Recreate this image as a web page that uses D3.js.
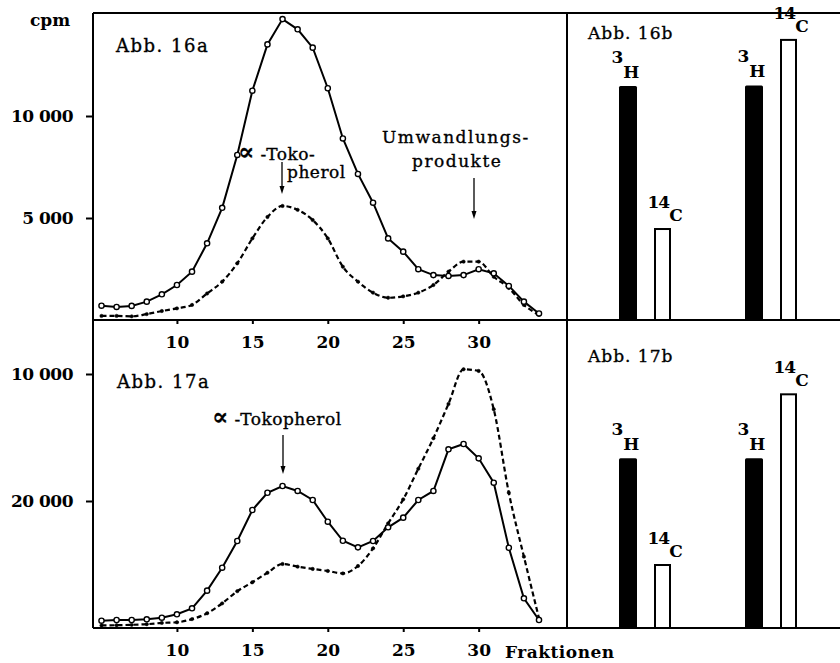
<!DOCTYPE html>
<html><head><meta charset="utf-8">
<script src="https://cdn.jsdelivr.net/npm/d3@7"></script>
<style>
body{margin:0;background:#fff;}
svg text{font-family:"DejaVu Serif",serif;fill:#000;}
</style></head>
<body>
<svg id="c" width="840" height="663"></svg>
<script>
// ---------- data ----------
const fractions = [5,6,7,8,9,10,11,12,13,14,15,16,17,18,19,20,21,22,23,24,25,26,27,28,29,30,31,32,33,34];
const xTickValues = [10,15,20,25,30];

// Abb. 16a (cpm)
const a16Solid  = [700,640,690,900,1260,1715,2370,3760,5500,8090,11240,13510,14750,14250,13350,11360,8900,7160,5750,4000,3350,2490,2200,2160,2200,2490,2290,1670,900,320];
const a16Dashed = [200,200,180,290,440,570,740,1300,1880,2780,4000,5050,5590,5400,4900,4000,2610,1880,1340,1090,1160,1340,1715,2370,2860,2860,2120,1570,740,250];
const topTickValues = [5000,10000];
const topTickLabels = ["5 000","10 000"];

// Abb. 17a (cpm)
const a17Solid  = [575,630,630,685,810,1080,1550,2940,4750,6850,9290,10650,11180,10790,10080,8370,6870,6350,6850,7930,8690,10080,10790,14070,14490,13360,11440,6320,2340,630];
const a17Dashed = [200,220,250,300,400,450,700,1160,1940,2900,3600,4350,5040,4830,4650,4490,4300,4880,6270,8240,10130,12540,14940,17640,20370,20240,17220,10650,5620,760];
const botTickValues = [10000,20000];
const botTickLabels = ["20 000","10 000"];

// Abb. 16b / 17b bars
const groups = ["I","II"];
const isotopes = ["3H","14C"];
const b16H = [11470,11500];
const b16C = [4460,13730];
const b17H = [13360,13360];
const b17C = [4960,18400];

// ---------- layout ----------
const svg = d3.select("#c");
const L = 93, M = 567, R = 840, T = 13, MID = 320, B = 628;

const x = d3.scaleLinear().domain([5,34]).range([101.5,539]);
const yTop = d3.scaleLinear().domain([0,15000]).range([MID,14]);
const yBot = d3.scaleLinear().domain([0,20000]).range([B,374]);

// frame
const frame = svg.append("g").attr("stroke","#000").attr("stroke-width",2).attr("fill","none");
[[L,T,R,T],[L,MID,R,MID],[L,B,R,B],[L,T,L,B],[M,T,M,B]].forEach(s=>{
  frame.append("line").attr("x1",s[0]).attr("y1",s[1]).attr("x2",s[2]).attr("y2",s[3]);
});

// axes
function yAxis(scale, vals, labels){
  const g = svg.append("g").attr("transform",`translate(${L},0)`)
    .call(d3.axisLeft(scale).tickValues(vals).tickSize(7).tickPadding(13)
      .tickFormat((d,i)=>labels[i]));
  g.select(".domain").remove();
  g.selectAll("line").attr("stroke","#000").attr("stroke-width",2);
  g.selectAll("text").attr("font-size",17).attr("font-weight","bold").attr("letter-spacing","-0.5px")
    .style("font-family","'DejaVu Serif',serif");
}
yAxis(yTop, topTickValues, topTickLabels);
yAxis(yBot, botTickValues, botTickLabels);

function xAxis(yPos){
  const g = svg.append("g").attr("transform",`translate(0,${yPos})`)
    .call(d3.axisBottom(x).tickValues(xTickValues).tickSize(4).tickPadding(12));
  g.select(".domain").remove();
  g.selectAll("line").attr("stroke","#000").attr("stroke-width",2);
  g.selectAll("text").attr("font-size",17).attr("font-weight","bold").style("font-family","'DejaVu Serif',serif");
}
xAxis(MID);
xAxis(B);

svg.append("text").attr("x",30).attr("y",26).attr("font-size",17).attr("font-weight","bold").text("cpm");
svg.append("text").attr("x",505).attr("y",658).attr("font-size",17).attr("font-weight","bold")
  .attr("letter-spacing","0.5px").text("Fraktionen");

// lines
function drawSeries(vals, yScale, dashed){
  const pts = fractions.map((f,i)=>[x(f), yScale(vals[i])]);
  const line = d3.line().curve(dashed ? d3.curveMonotoneX : d3.curveLinear);
  svg.append("path").attr("d",line(pts)).attr("fill","none").attr("stroke","#000")
    .attr("stroke-width", dashed ? 2.2 : 2)
    .attr("stroke-dasharray", dashed ? "5,3" : null);
  svg.append("g").selectAll("circle").data(pts).join("circle")
    .attr("cx",d=>d[0]).attr("cy",d=>d[1])
    .attr("r", dashed ? 1.7 : 2.6)
    .attr("fill", dashed ? "#000" : "#fff")
    .attr("stroke","#000").attr("stroke-width", dashed ? 0.5 : 1.4);
}
drawSeries(a16Dashed, yTop, true);
drawSeries(a16Solid, yTop, false);
drawSeries(a17Dashed, yBot, true);
drawSeries(a17Solid, yBot, false);

// annotations
function label(txt, xx, yy, size, ls){
  return svg.append("text").attr("x",xx).attr("y",yy).attr("font-size",size)
    .attr("letter-spacing",(ls||0)+"px").attr("stroke","#000").attr("stroke-width",0.35).text(txt);
}
function alphaLabel(rest, xx, yy, size){
  const t = svg.append("text").attr("x",xx).attr("y",yy).attr("font-size",size)
    .attr("letter-spacing","0.5px").attr("stroke","#000").attr("stroke-width",0.35);
  t.append("tspan").attr("font-size",size+7).attr("font-weight","bold").text("\u221D");
  t.append("tspan").text(" " + rest);
}
function arrow(xx, y1, y2){
  svg.append("line").attr("x1",xx).attr("x2",xx).attr("y1",y1).attr("y2",y2-6)
    .attr("stroke","#000").attr("stroke-width",1.3);
  svg.append("path").attr("d",`M${xx-2.5},${y2-8}L${xx+2.5},${y2-8}L${xx},${y2}Z`).attr("fill","#000");
}
label("Abb. 16a", 116, 52, 18, 1.5);
label("Abb. 17a", 117, 388, 18, 1.5);
label("Abb. 16b", 588, 39, 17, 1);
label("Abb. 17b", 588, 362, 17, 1);

alphaLabel("-Toko-", 238, 160, 17);
label("pherol", 287, 178, 17, 0.5);
arrow(282, 162, 194);

label("Umwandlungs-", 382, 143, 17, 1.5);
label("produkte", 412, 167, 17, 1.5);
arrow(474, 178, 219);

alphaLabel("-Tokopherol", 212, 425, 17);
arrow(283, 435, 474);

// bars
const gx = d3.scalePoint().domain(groups).range([645,771]);
const ix = d3.scalePoint().domain(isotopes).range([-17.5,17.5]);
const barW = 17;

function bars(hVals, cVals, yScale){
  const g = svg.append("g");
  groups.forEach((grp,i)=>{
    const cxH = gx(grp)+ix("3H"), cxC = gx(grp)+ix("14C");
    const yH = yScale(hVals[i]), yC = yScale(cVals[i]);
    const y0 = yScale(0);
    g.append("rect").attr("x",cxH-barW/2).attr("y",yH).attr("width",barW+1).attr("height",y0-yH)
      .attr("fill","#000").attr("rx",1.5);
    g.append("rect").attr("x",cxC-barW/2+1).attr("y",yC).attr("width",barW-2).attr("height",y0-yC)
      .attr("fill","#fff").attr("stroke","#000").attr("stroke-width",2);
    const tH = g.append("text").attr("x",cxH-16).attr("y",yH-8).attr("font-size",17).attr("font-weight","bold");
    tH.append("tspan").attr("dy",-15).text("3");
    tH.append("tspan").attr("dy",15).text("H");
    const tC = g.append("text").attr("x",cxC-15).attr("y",yC-8).attr("font-size",17).attr("font-weight","bold");
    tC.append("tspan").attr("dy",-13).attr("letter-spacing","-1px").text("14");
    tC.append("tspan").attr("dy",13).text("C");
  });
}
bars(b16H, b16C, yTop);
bars(b17H, b17C, yBot);
</script>
</body></html>
